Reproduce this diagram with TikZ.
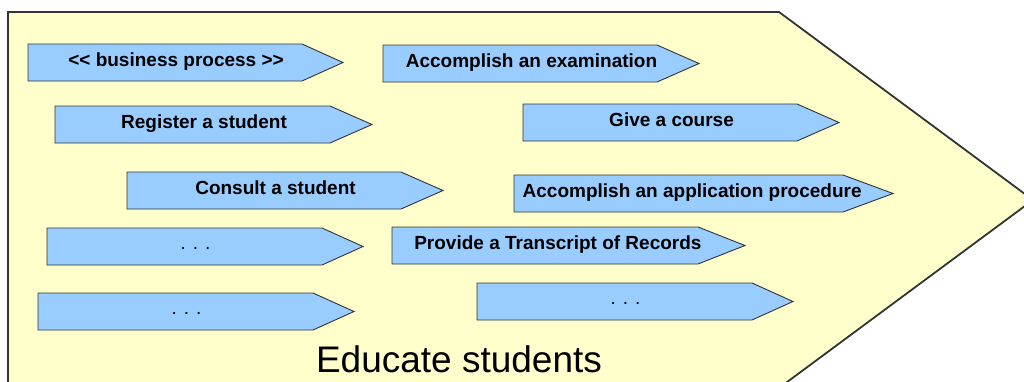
\documentclass[tikz,border=0pt]{standalone}
\usepackage{fontspec}
\setmainfont{Liberation Sans}
\definecolor{bgyellow}{HTML}{FFFFCC}
\definecolor{procblue}{HTML}{99CCFF}
\definecolor{edge}{HTML}{333333}
\tikzset{
  bigshape/.style={draw=edge, line width=1.8pt, fill=bgyellow, line join=miter},
  procshape/.style={draw=edge, line width=0.9pt, fill=procblue},
  proclabel/.style={anchor=base, inner sep=0pt, font=\fontsize{19}{22}\selectfont\bfseries},
  dotlabel/.style={anchor=base, inner sep=0pt, font=\fontsize{19}{22}\selectfont},
  titlelabel/.style={anchor=base, inner sep=0pt, font=\fontsize{37}{42}\selectfont}
}
\newcommand\procbox[6]{%
  \draw[procshape] (#2,#3) -- (#4,#3) -- (#5,{#3+18.5}) -- (#4,{#3+37}) -- (#2,{#3+37}) -- cycle;
  \node[proclabel] (#1) at ({#2+0.47*(#5-#2)},{#3+22}) {#6};
}
\newcommand\dotbox[5]{%
  \draw[procshape] (#2,#3) -- (#4,#3) -- (#5,{#3+18.5}) -- (#4,{#3+37}) -- (#2,{#3+37}) -- cycle;
  \node[dotlabel] (#1) at ({#2+0.47*(#5-#2)},{#3+21}) {. . .};
}
\begin{document}
\begin{tikzpicture}[x=1pt, y=-1pt]
  \useasboundingbox (0,0) rectangle (1024,381);
  \clip (0,0) rectangle (1024,381);
  \fill[white] (0,0) rectangle (1024,381);
  \draw[bigshape] (8,12) -- (779,12) -- (1033,200) -- (779,388) -- (8,388) -- cycle;
  \procbox{bp}{28}{44}{302}{343}{<{}< business process >{}>}
  \procbox{exam}{383}{45}{657}{699}{Accomplish an examination}
  \procbox{reg}{55}{106}{330}{372}{Register a student}
  \procbox{course}{523}{104}{797}{839}{Give a course}
  \procbox{consult}{127}{172}{401}{443}{Consult a student}
  \procbox{appl}{514}{175}{843}{893}{Accomplish an application procedure}
  \dotbox{dotsa}{47}{228}{322}{363}
  \procbox{tor}{392}{227}{698}{745}{Provide a Transcript of Records}
  \dotbox{dotsb}{38}{293}{313}{354}
  \dotbox{dotsc}{477}{283}{752}{793}
  \node[titlelabel] (title) at (459,372) {Educate students};
\end{tikzpicture}
\end{document}
